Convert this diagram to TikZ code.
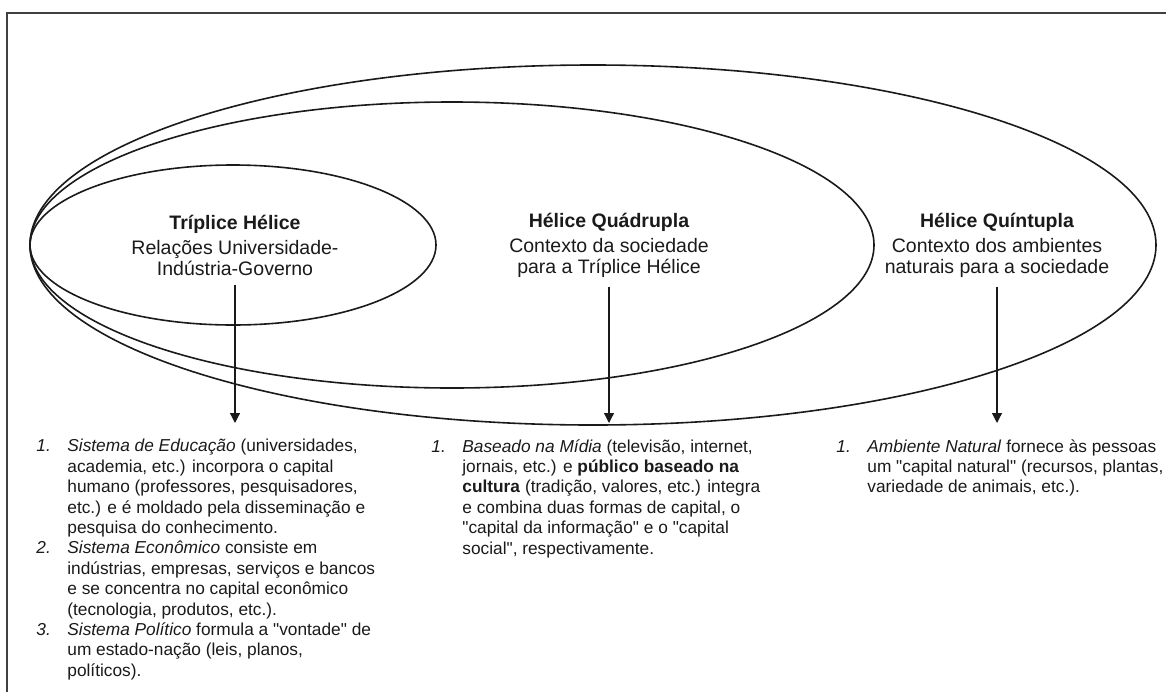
\documentclass[tikz,border=0pt]{standalone}
\usepackage{fontspec}
\setmainfont{Liberation Sans}[Ligatures=TeXOff]
\usepackage{xcolor}
\usepackage{tikz}
\usetikzlibrary{arrows.meta}
\definecolor{ink}{HTML}{1A1A1A}
\definecolor{frame}{HTML}{404040}
\tikzset{
  helix/.style={draw=ink, line width=0.8pt},
  box/.style={draw=frame, line width=0.8pt, line cap=rect},
  arr/.style={draw=ink, line width=0.6pt, -{Triangle[length=5pt,width=5pt]}, shorten <=4.5pt, shorten >=8pt},
  head/.style={text=ink, align=center, font=\fontsize{9.75}{10.5}\selectfont, inner sep=0pt},
  lst/.style={text=ink, align=left, font=\fontsize{8.65}{10.2}\selectfont, inner sep=0pt, anchor=north west}
}
\newcommand{\itemno}[1]{\makebox[15.5pt][l]{\itshape #1}}
\newcommand{\itemind}{\hspace*{15.5pt}}

\begin{document}
\begin{tikzpicture}[x=0.5pt, y=-0.5pt]
  \useasboundingbox (0,0) rectangle (1166,691);
  % frame
  \draw[box] (1166,13) -- (7,13) -- (7,691);
  % the three helices
  \draw[helix] (593,245) ellipse (563 and 180);
  \draw[helix] (452,245) ellipse (422 and 143);
  \draw[helix] (233,245) ellipse (203 and 80);
  % titles
  \node[head] (tri) at (235,245) {\textbf{Tríplice Hélice}\\[2pt]Relações Universidade-\\Indústria-Governo};
  \node[head] (quad) at (609,245) {\textbf{Hélice Quádrupla}\\[2pt]Contexto da sociedade\\para a Tríplice Hélice};
  \node[head] (quin) at (997,245) {\textbf{Hélice Quíntupla}\\[2pt]Contexto dos ambientes\\naturais para a sociedade};
  % lists
  \node[lst] (lstA) at (36,439) {\itemno{1.}\textit{Sistema de Educação} (universidades,\\
    \itemind academia, etc.) incorpora o capital\\
    \itemind humano (professores, pesquisadores,\\
    \itemind etc.) e é moldado pela disseminação e\\
    \itemind pesquisa do conhecimento.\\
    \itemno{2.}\textit{Sistema Econômico} consiste em\\
    \itemind indústrias, empresas, serviços e bancos\\
    \itemind e se concentra no capital econômico\\
    \itemind (tecnologia, produtos, etc.).\\
    \itemno{3.}\textit{Sistema Político} formula a "vontade" de\\
    \itemind um estado-nação (leis, planos,\\
    \itemind políticos).};
  \node[lst] (lstB) at (431,439) {\itemno{1.}\textit{Baseado na Mídia} (televisão, internet,\\
    \itemind jornais, etc.) e \textbf{público baseado na}\\
    \itemind \textbf{cultura} (tradição, valores, etc.) integra\\
    \itemind e combina duas formas de capital, o\\
    \itemind "capital da informação" e o "capital\\
    \itemind social", respectivamente.};
  \node[lst] (lstC) at (836,439) {\itemno{1.}\textit{Ambiente Natural} fornece às pessoas\\
    \itemind um "capital natural" (recursos, plantas,\\
    \itemind variedade de animais, etc.).};
  % arrows
  \draw[arr] (tri.south) -- (tri.south |- lstA.north);
  \draw[arr] (quad.south) -- (quad.south |- lstB.north);
  \draw[arr] (quin.south) -- (quin.south |- lstC.north);
\end{tikzpicture}
\end{document}
